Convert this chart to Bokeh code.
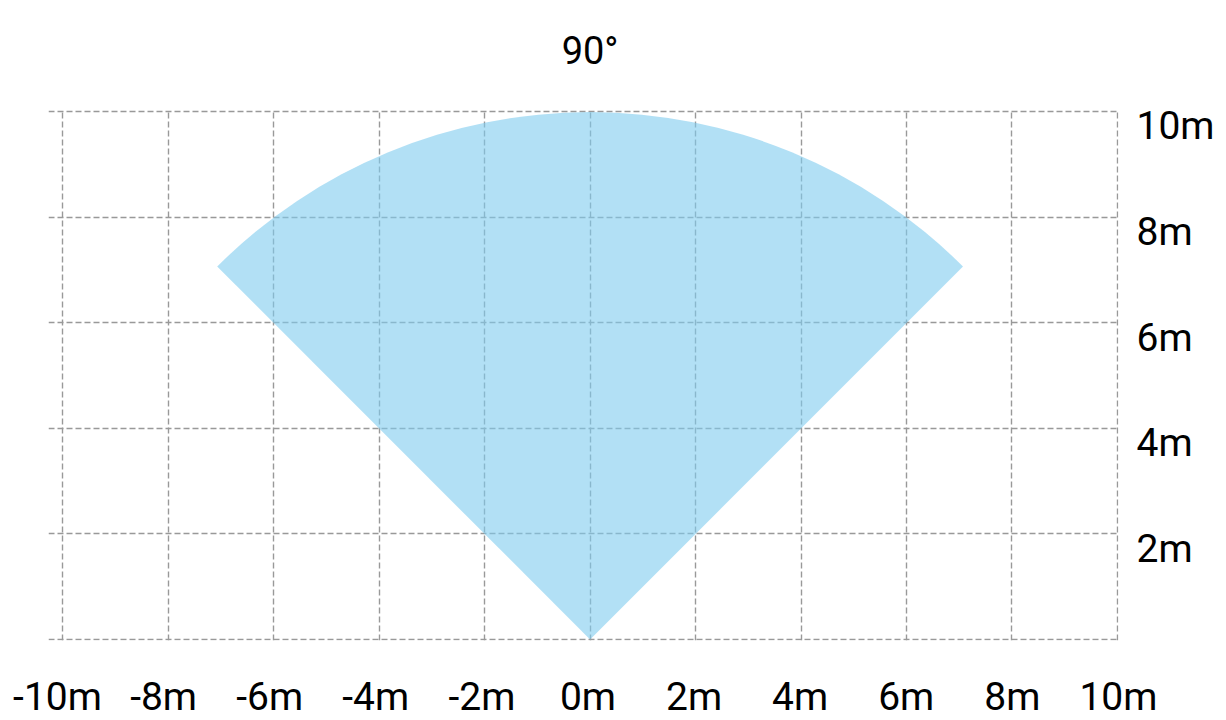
from bokeh.plotting import figure
from bokeh.models import (Range1d, LinearAxis, FixedTicker, Grid,
                          ColumnDataSource, PrintfTickFormatter)
from bokeh.embed import file_html
from bokeh.resources import INLINE

# ---- data ----
x_ticks = [-10, -8, -6, -4, -2, 0, 2, 4, 6, 8, 10]
y_grid = [0, 2, 4, 6, 8, 10]
y_ticks = [2, 4, 6, 8, 10]
sector_x = [0]
sector_y = [0]
sector_radius = [10]
sector_start_deg = [45]
sector_end_deg = [135]
angle_tick = [0]
angle_label = {0: "90°"}

FONT = "Roboto"

p = figure(frame_width=1070, frame_height=531,
           x_range=Range1d(-10.27, 10.02), y_range=Range1d(-0.02, 10.04),
           x_axis_location=None, y_axis_location=None,
           min_border_left=48, min_border_top=109, min_border_bottom=79, min_border_right=100,
           output_backend="svg", toolbar_location=None)
p.outline_line_color = None
p.background_fill_color = "white"
p.border_fill_color = "white"
# hide the default grids created by figure()
p.grid.visible = False

p.extra_x_ranges = {"lbl_x": Range1d(-10.17, 10.001)}
p.extra_y_ranges = {"lbl_y": Range1d(0.26, 10.32)}

grid_style = dict(grid_line_color="#999999", grid_line_dash="6 3", grid_line_width=1.4)
p.add_layout(Grid(dimension=0, ticker=FixedTicker(ticks=x_ticks), **grid_style))
p.add_layout(Grid(dimension=1, ticker=FixedTicker(ticks=y_grid), **grid_style))

src = ColumnDataSource(dict(x=sector_x, y=sector_y, r=sector_radius,
                            a0=sector_start_deg, a1=sector_end_deg))
p.wedge(x="x", y="y", radius="r", start_angle="a0", end_angle="a1",
        start_angle_units="deg", end_angle_units="deg", source=src,
        fill_color="#7fcbee", fill_alpha=0.6, line_color=None)


def style(ax, standoff, size="39px"):
    ax.axis_line_color = None
    ax.major_tick_line_color = None
    ax.minor_tick_line_color = None
    ax.major_tick_out = 0
    ax.major_tick_in = 0
    ax.major_label_standoff = standoff
    ax.major_label_text_font = FONT
    ax.major_label_text_font_size = size
    ax.major_label_text_color = "black"


# right axis labels
ax_r = LinearAxis(y_range_name="lbl_y", ticker=FixedTicker(ticks=y_ticks),
                  formatter=PrintfTickFormatter(format="%dm"))
style(ax_r, 18)
p.add_layout(ax_r, "right")

# bottom axis labels
ax_b = LinearAxis(x_range_name="lbl_x", ticker=FixedTicker(ticks=x_ticks),
                  formatter=PrintfTickFormatter(format="%dm"))
style(ax_b, 33)
p.add_layout(ax_b, "below")

# top angle label
ax_t = LinearAxis(ticker=FixedTicker(ticks=angle_tick), major_label_overrides=angle_label)
style(ax_t, 37, "38px")
p.add_layout(ax_t, "above")

open("out.html", "w").write(file_html(p, INLINE))
